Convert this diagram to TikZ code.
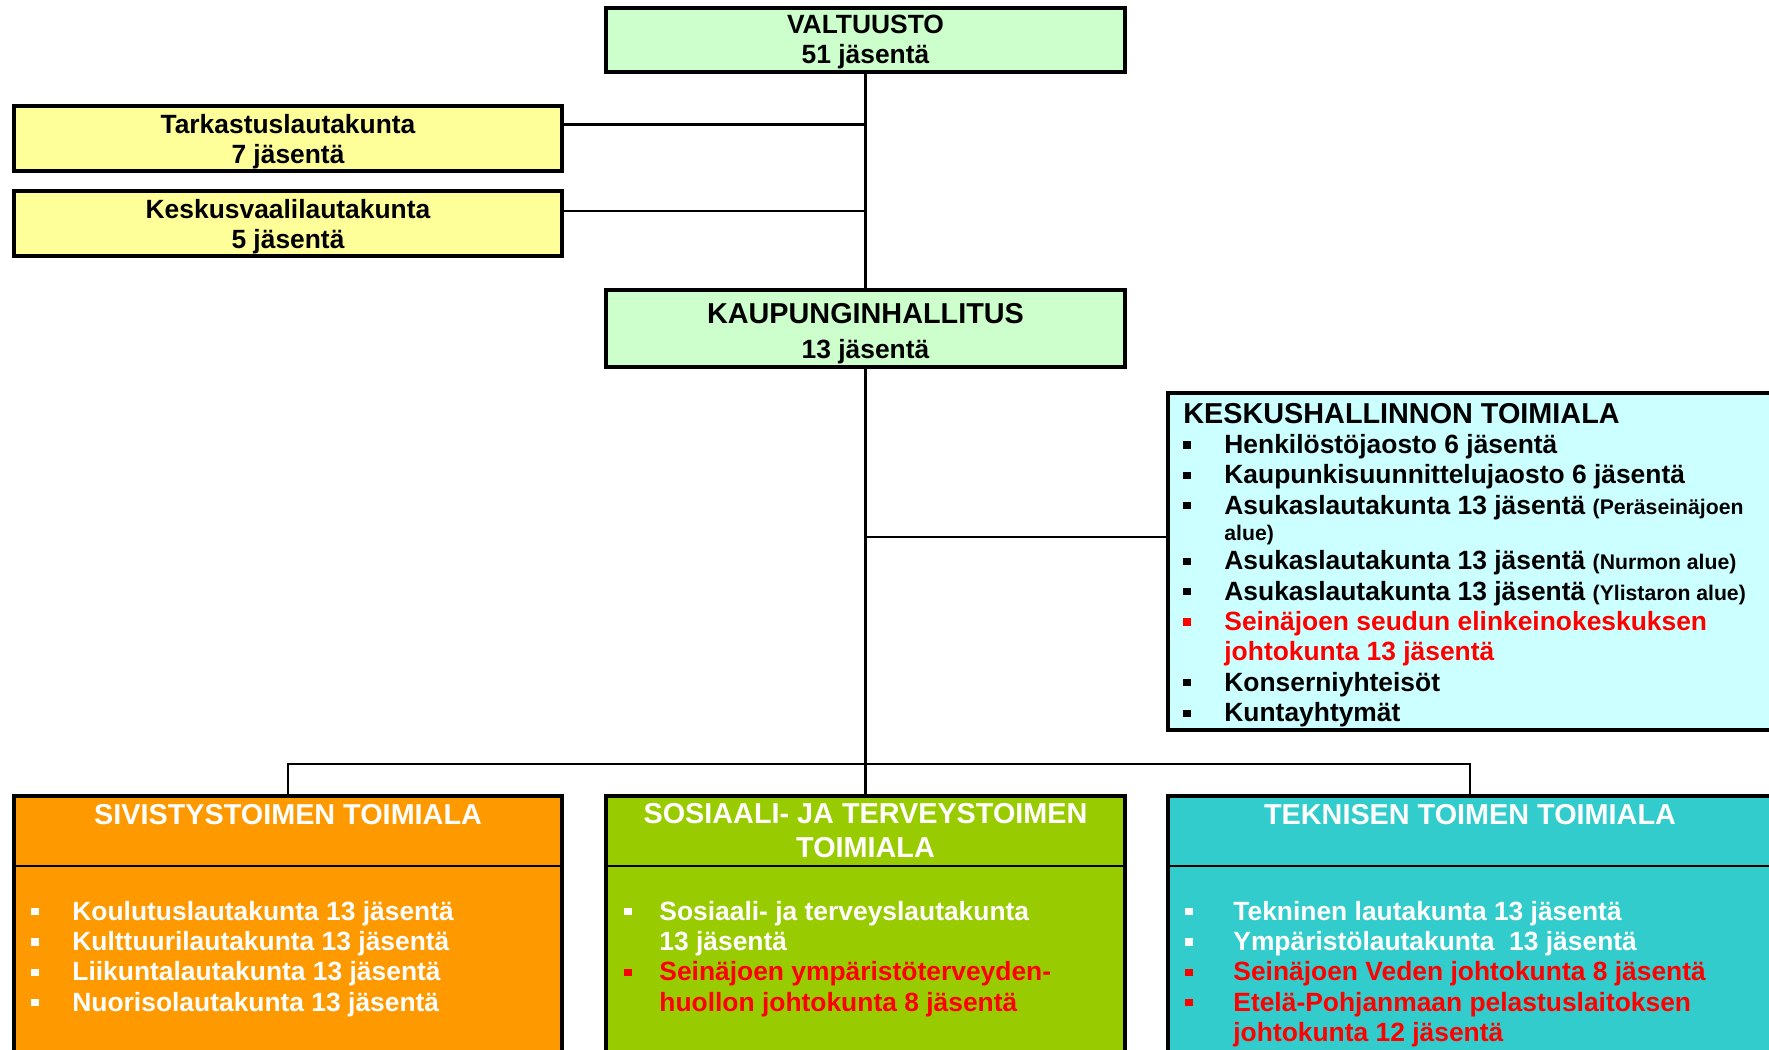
\documentclass[tikz,border=0pt]{standalone}
\usepackage{fontspec}
\setmainfont{Liberation Sans}
\usetikzlibrary{fit}

\definecolor{palegreen}{HTML}{CCFFCC}
\definecolor{paleyellow}{HTML}{FFFF99}
\definecolor{palecyan}{HTML}{CCFFFF}
\definecolor{deporange}{HTML}{FF9900}
\definecolor{deplime}{HTML}{99CC00}
\definecolor{depteal}{HTML}{33CCCC}
\definecolor{listred}{HTML}{FF0000}

\newcommand{\sqb}[1]{\textcolor{#1}{\rule[2.4pt]{3.6pt}{3.6pt}}}
\newcommand{\smalltxt}[1]{{\fontsize{10.6}{12}\selectfont #1}}

\begin{document}
\begin{tikzpicture}[x=0.5pt,y=-0.5pt,
    orgbox/.style={draw, line width=1.6pt, inner sep=0pt},
    boxtxt/.style={anchor=north, inner sep=0pt, align=center, font=\fontsize{13.2}{15}\selectfont\bfseries},
    link/.style={line width=1.2pt},
    head/.style={font=\fontsize{14.4}{17}\selectfont\bfseries, text=white, align=center, inner sep=0pt},
    items/.style={anchor=base west, inner sep=0pt, font=\fontsize{13.2}{15.2}\selectfont\bfseries}]
    \useasboundingbox (0,0) rectangle (1769,1050);
    \clip (0,0) rectangle (1769,1050);
    % Valtuusto and boards
    \node[orgbox, fill=palegreen, fit={(606,8) (1125,72)}] (valt) {};
    \node[boxtxt] (valttxt) at (865.5,15) {VALTUUSTO\\51 jäsentä};
    \node[orgbox, fill=paleyellow, fit={(14,106) (562,171)}] (tark) {};
    \node[boxtxt] (tarktxt) at (288,114) {Tarkastuslautakunta\\7 jäsentä};
    \node[orgbox, fill=paleyellow, fit={(14,191) (562,256)}] (vaali) {};
    \node[boxtxt] (vaalitxt) at (288,199) {Keskusvaalilautakunta\\5 jäsentä};
    \node[orgbox, fill=palegreen, fit={(606,290) (1125,367)}] (kh) {};
    \node[boxtxt, font=\fontsize{14.4}{17.5}\selectfont\bfseries] (khtxt) at (865.5,303) {KAUPUNGINHALLITUS\\{\fontsize{13.2}{17.5}\selectfont 13 jäsentä}};
    % Keskushallinto
    \node[orgbox, fill=palecyan, fit={(1168,393) (1790,730)}] (kesk) {};
    \node[items] (kesklist) at (1183,423) {\begin{tabular}[t]{@{}p{20.5pt}@{}l@{}}
        \multicolumn{2}{@{}l@{}}{\fontsize{14.4}{15.2}\selectfont KESKUSHALLINNON TOIMIALA}\\
        \sqb{black} & Henkilöstöjaosto 6 jäsentä\\
        \sqb{black} & Kaupunkisuunnittelujaosto 6 jäsentä\\
        \sqb{black} & Asukaslautakunta 13 jäsentä \smalltxt{(Peräseinäjoen}\\[-2.2pt]
        & \smalltxt{alue)}\\[-0.5pt]
        \sqb{black} & Asukaslautakunta 13 jäsentä \smalltxt{(Nurmon alue)}\\
        \sqb{black} & Asukaslautakunta 13 jäsentä \smalltxt{(Ylistaron alue)}\\
        \sqb{listred} & \color{listred}Seinäjoen seudun elinkeinokeskuksen\\
        & \color{listred}johtokunta 13 jäsentä\\
        \sqb{black} & Konserniyhteisöt\\
        \sqb{black} & Kuntayhtymät
    \end{tabular}};
    % Toimialat
    \coordinate (hd) at (0,866);
    \node[orgbox, fill=deporange, fit={(14,796) (562,1075)}] (sivi) {};
    \node[orgbox, fill=deplime, fit={(606,796) (1125,1075)}] (sote) {};
    \node[orgbox, fill=depteal, fit={(1168,796) (1772,1075)}] (tekn) {};
    \foreach \b in {sivi,sote,tekn} {\draw[link] (\b.west |- hd) -- (\b.east |- hd);}
    \node[head, anchor=base] (sivihead) at (288,824) {SIVISTYSTOIMEN TOIMIALA};
    \node[head] (sotehead) at (865.5,831) {SOSIAALI- JA TERVEYSTOIMEN\\TOIMIALA};
    \node[head, anchor=base] (teknhead) at (1470,824) {TEKNISEN TOIMEN TOIMIALA};
    \node[items, text=white] (sivilist) at (31,920) {\begin{tabular}[t]{@{}p{20.5pt}@{}l@{}}
        \sqb{white} & Koulutuslautakunta 13 jäsentä\\
        \sqb{white} & Kulttuurilautakunta 13 jäsentä\\
        \sqb{white} & Liikuntalautakunta 13 jäsentä\\
        \sqb{white} & Nuorisolautakunta 13 jäsentä
    \end{tabular}};
    \node[items, text=white] (sotelist) at (624,920) {\begin{tabular}[t]{@{}p{17.5pt}@{}l@{}}
        \sqb{white} & Sosiaali- ja terveyslautakunta\\
        & 13 jäsentä\\
        \sqb{listred} & \color{listred}Seinäjoen ympäristöterveyden-\\
        & \color{listred}huollon johtokunta 8 jäsentä
    \end{tabular}};
    \node[items, text=white] (teknlist) at (1185,920) {\begin{tabular}[t]{@{}p{24pt}@{}l@{}}
        \sqb{white} & Tekninen lautakunta 13 jäsentä\\
        \sqb{white} & Ympäristölautakunta~ 13 jäsentä\\
        \sqb{listred} & \color{listred}Seinäjoen Veden johtokunta 8 jäsentä\\
        \sqb{listred} & \color{listred}Etelä-Pohjanmaan pelastuslaitoksen\\
        & \color{listred}johtokunta 12 jäsentä
    \end{tabular}};
    % Connectors
    \coordinate (tjoin) at (865.5,124.5);
    \coordinate (vjoin) at (865.5,211);
    \coordinate (kjoin) at (865.5,537);
    \coordinate (bus) at (865.5,764);
    \draw[link] (valt) -- (kh);
    \draw[link] (tark.east |- tjoin) -- (tjoin);
    \draw[link] (vaali.east |- vjoin) -- (vjoin);
    \draw[link] (kh) -- (sote);
    \draw[link] (kjoin) -- (kjoin -| kesk.west);
    \draw[link] (sivi.north) |- (bus) -| (tekn.north);
\end{tikzpicture}
\end{document}
